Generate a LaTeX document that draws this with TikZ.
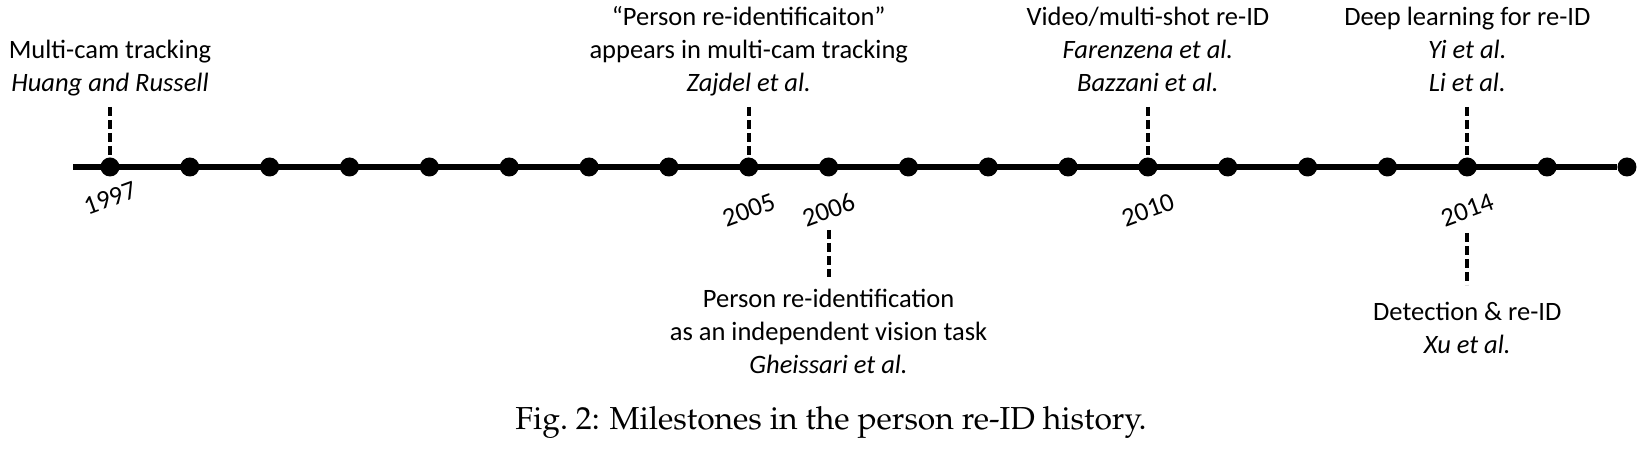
\documentclass[tikz,border=0pt]{standalone}
\usepackage[T1]{fontenc}
\usepackage{fontspec}
\setmainfont{Carlito}
\usetikzlibrary{positioning}

\newcommand\capfont{\fontencoding{T1}\fontfamily{ppl}\fontsize{15.9pt}{19pt}\selectfont}

\begin{document}
\begin{tikzpicture}[x = 0.5pt, y = 0.5pt, node distance = 30pt and 39.92pt, on grid,
                    font = \fontsize{13.25pt}{16.5pt}\selectfont,
                    dot/.style       = {circle,
                                        fill = black,
                                        inner sep = 0pt,
                                        minimum size = 9.5pt},
                    yearlabel/.style = {rotate = 20,
                                        inner sep = 0pt},
                    event/.style     = {align = center,
                                        inner sep = 0pt},
                    timeline/.style  = {line width = 3.25pt},
                    stem/.style      = {line width = 2pt,
                                        dash pattern = on 4.5pt off 2pt}]

\useasboundingbox (0,0) rectangle (1640,449);

% one dot per year
\node[dot] (d1997) at (110,282) {};
\node[dot] (d1998) [right = of d1997] {};
\node[dot] (d1999) [right = of d1998] {};
\node[dot] (d2000) [right = of d1999] {};
\node[dot] (d2001) [right = of d2000] {};
\node[dot] (d2002) [right = of d2001] {};
\node[dot] (d2003) [right = of d2002] {};
\node[dot] (d2004) [right = of d2003] {};
\node[dot] (d2005) [right = of d2004] {};
\node[dot] (d2006) [right = of d2005] {};
\node[dot] (d2007) [right = of d2006] {};
\node[dot] (d2008) [right = of d2007] {};
\node[dot] (d2009) [right = of d2008] {};
\node[dot] (d2010) [right = of d2009] {};
\node[dot] (d2011) [right = of d2010] {};
\node[dot] (d2012) [right = of d2011] {};
\node[dot] (d2013) [right = of d2012] {};
\node[dot] (d2014) [right = of d2013] {};
\node[dot] (d2015) [right = of d2014] {};
\node[dot] (d2016) [right = of d2015] {};

\coordinate (start) at (73,282);
\draw[timeline] (start) -- (d2016);

% years
\node[yearlabel] (l1997) [below = 15.5pt of d1997] {1997};
\node[yearlabel] (l2005) [below = 21.5pt of d2005] {2005};
\node[yearlabel] (l2006) [below = 21.5pt of d2006] {2006};
\node[yearlabel] (l2010) [below = 21.5pt of d2010] {2010};
\node[yearlabel] (l2014) [below = 21.5pt of d2014] {2014};

% milestones above the line
\coordinate[above = of d1997] (t1997);
\coordinate[above = of d2005] (t2005);
\coordinate[above = of d2010] (t2010);
\coordinate[above = of d2014] (t2014);

\draw[stem] (t1997) -- (d1997);
\draw[stem] (t2005) -- (d2005);
\draw[stem] (t2010) -- (d2010);
\draw[stem] (t2014) -- (d2014);

\node[event, anchor = south, yshift = 2.55pt] (e1997) at (t1997)
     {Multi-cam tracking\\ \textit{Huang and Russell}\strut};
\node[event, anchor = south, yshift = 2.55pt] (e2005) at (t2005)
     {``Person re-identificaiton''\\ appears in multi-cam tracking\\ \textit{Zajdel et al.}\strut};
\node[event, anchor = south, yshift = 2.55pt] (e2010) at (t2010)
     {Video/multi-shot re-ID\\ \textit{Farenzena et al.}\\ \textit{Bazzani et al.}\strut};
\node[event, anchor = south, yshift = 2.55pt] (e2014) at (t2014)
     {Deep learning for re-ID\\ \textit{Yi et al.}\\ \textit{Li et al.}\strut};

% milestones below the line
\coordinate[below = 31.5pt of d2006] (b2006a);
\coordinate[below = 55pt of d2006] (b2006b);
\coordinate[below = 33pt of d2014] (b2014a);
\coordinate[below = 59pt of d2014] (b2014b);

\draw[stem] (b2006a) -- (b2006b);
\draw[stem] (b2014a) -- (b2014b);

\node[event, anchor = north, yshift = -3.45pt] (e2006) at (b2006b)
     {\strut Person re-identification\\ as an independent vision task\\ \textit{Gheissari et al.}};
\node[event, anchor = north, yshift = -5.95pt] (e2014b) at (b2014b)
     {\strut Detection \& re-ID\\ \textit{Xu et al.}};

\node[anchor = base, font = \capfont] (caption) at (831,19)
     {Fig.~2: Milestones in the person re-ID history.};

\end{tikzpicture}
\end{document}
